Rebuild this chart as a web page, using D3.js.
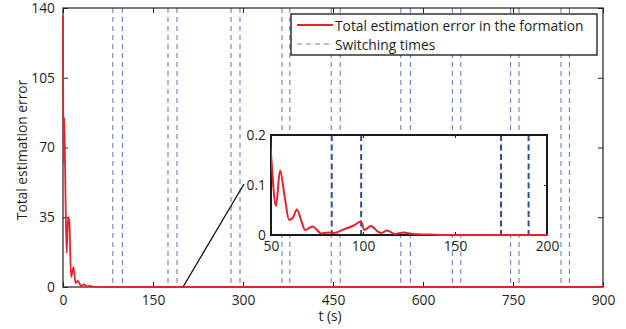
<!DOCTYPE html>
<html>
<head>
<meta charset="utf-8">
<script src="https://cdnjs.cloudflare.com/ajax/libs/d3/7.8.5/d3.min.js"></script>
<style>
  html, body { margin: 0; padding: 0; background: #fff; }
  svg { display: block; }
  text { font-family: "Open Sans", "DejaVu Sans", sans-serif; fill: #231f20; }
</style>
</head>
<body>
<svg id="chart" width="626" height="329"></svg>
<script>
// ---------- data ----------
const timeValues = [0, 0.8, 2, 3.5, 6, 8.5, 10.5, 13.5, 17.5, 21, 25, 30, 35, 40, 45,
  50, 52.7, 54.9, 57.5, 59.8, 62, 64, 66.5, 68.5, 72.5, 77.5, 81, 84, 90, 95, 98.9,
  100.7, 104.3, 108, 110, 113, 117.4, 121.9, 127, 135, 150, 900];
const errorValues = [136, 62, 85, 60, 17, 35, 33, 5, 10, 2, 3, 0.5, 1.3, 0.3, 0.5,
  0.163, 0.058, 0.129, 0.075, 0.03, 0.035, 0.051, 0.028, 0.01, 0.017, 0.003, 0.005, 0.004, 0.012, 0.019, 0.027,
  0.01, 0.018, 0.007, 0.004, 0.009, 0.002, 0.005, 0.002, 0.001, 0, 0];
const switchingTimes = [83, 99, 175, 190, 280, 295, 365, 378, 447, 462, 563, 579, 649, 663, 746, 760, 830, 844];
const xTicksMain = [0, 150, 300, 450, 600, 750, 900];
const yTicksMain = [0, 35, 70, 105, 140];
const xTicksInset = [50, 100, 150, 200];
const yTicksInset = [0, 0.1, 0.2];
const legendLabels = ["Total estimation error in the formation", "Switching times"];
const xLabel = "t (s)";
const yLabel = "Total estimation error";

const series = timeValues.map((t, i) => ({ t, v: errorValues[i] }));

// ---------- styles ----------
const RED = "#e8212b";
const DASH_MAIN = "#6a81c6";
const DASH_INSET = "#2d4ea5";
const FS = "13.8px";

const svg = d3.select("#chart");
const defs = svg.append("defs");

// ---------- main axes ----------
const x = d3.scaleLinear().domain([0, 900]).range([63, 603]);
const y = d3.scaleLinear().domain([0, 140]).range([287, 8]);

const gMain = svg.append("g");

// switching lines (main)
gMain.selectAll("line.sw").data(switchingTimes).join("line")
  .attr("x1", d => x(d)).attr("x2", d => x(d))
  .attr("y1", y(140)).attr("y2", y(0))
  .attr("stroke", DASH_MAIN).attr("stroke-width", 1.1)
  .attr("stroke-dasharray", "5,4");

// axes
const axB = d3.axisBottom(x).tickValues(xTicksMain).tickSize(-5).tickPadding(8).tickFormat(d3.format("d"));
const axT = d3.axisTop(x).tickValues(xTicksMain).tickSize(-5).tickFormat("");
const axL = d3.axisLeft(y).tickValues(yTicksMain).tickSize(-5).tickPadding(8).tickFormat(d3.format("d"));
const axR = d3.axisRight(y).tickValues(yTicksMain).tickSize(-5).tickFormat("");

function styleAxis(g) {
  g.select(".domain").remove();
  g.selectAll(".tick line").attr("stroke", "#231f20").attr("stroke-width", 1);
  g.selectAll(".tick text").style("font-size", FS).attr("fill", "#231f20");
}
gMain.append("g").attr("transform", `translate(0,${y(0)})`).call(axB).call(styleAxis);
gMain.append("g").attr("transform", `translate(0,${y(140)})`).call(axT).call(styleAxis);
gMain.append("g").attr("transform", `translate(${x(0)},0)`).call(axL).call(styleAxis);
gMain.append("g").attr("transform", `translate(${x(900)},0)`).call(axR).call(styleAxis);

// frame
gMain.append("rect")
  .attr("x", x(0)).attr("y", y(140))
  .attr("width", x(900) - x(0)).attr("height", y(0) - y(140))
  .attr("fill", "none").attr("stroke", "#231f20").attr("stroke-width", 1.2);

// red curve (main)
defs.append("clipPath").attr("id", "clipMain")
  .append("rect").attr("x", x(0) - 2).attr("y", y(140) - 2).attr("width", x(900) - x(0) + 2).attr("height", y(0) - y(140) + 4);

const lineMain = d3.line().x(d => x(d.t)).y(d => y(d.v)).curve(d3.curveMonotoneX);
gMain.append("path").datum(series)
  .attr("d", lineMain)
  .attr("fill", "none").attr("stroke", RED).attr("stroke-width", 1.8)
  .attr("clip-path", "url(#clipMain)");

// labels
svg.append("text").attr("x", 330).attr("y", 321).attr("text-anchor", "middle")
  .style("font-size", FS).text(xLabel);
svg.append("text").attr("transform", "translate(27,150) rotate(-90)").attr("text-anchor", "middle")
  .style("font-size", FS).text(yLabel);

// ---------- legend ----------
const lg = svg.append("g");
lg.append("rect").attr("x", 291).attr("y", 14).attr("width", 306).attr("height", 41)
  .attr("fill", "#fff").attr("stroke", "#000").attr("stroke-width", 1.2);
lg.append("line").attr("x1", 297).attr("x2", 333).attr("y1", 25).attr("y2", 25)
  .attr("stroke", RED).attr("stroke-width", 1.8);
lg.append("line").attr("x1", 297).attr("x2", 333).attr("y1", 44).attr("y2", 44)
  .attr("stroke", DASH_MAIN).attr("stroke-width", 1.2).attr("stroke-dasharray", "5,4");
lg.selectAll("text.lg").data(legendLabels).join("text")
  .attr("x", 335).attr("y", (d, i) => 30.5 + i * 19)
  .style("font-size", FS).text(d => d);

// ---------- inset ----------
const xi = d3.scaleLinear().domain([50, 200]).range([271, 547]);
const yi = d3.scaleLinear().domain([0, 0.2]).range([235, 135]);
const gIn = svg.append("g");

gIn.append("rect").attr("x", xi(50)).attr("y", yi(0.2))
  .attr("width", xi(200) - xi(50)).attr("height", yi(0) - yi(0.2))
  .attr("fill", "#fff");

gIn.selectAll("line.sw").data(switchingTimes.filter(d => d >= 50 && d <= 200)).join("line")
  .attr("x1", d => xi(d)).attr("x2", d => xi(d))
  .attr("y1", yi(0.2)).attr("y2", yi(0))
  .attr("stroke", DASH_INSET).attr("stroke-width", 2)
  .attr("stroke-dasharray", "6,3.5");

const aiB = d3.axisBottom(xi).tickValues(xTicksInset).tickSize(-3).tickPadding(6).tickFormat(d3.format("d"));
const aiT = d3.axisTop(xi).tickValues(xTicksInset).tickSize(-3).tickFormat("");
const aiL = d3.axisLeft(yi).tickValues(yTicksInset).tickSize(-3).tickPadding(5).tickFormat(d => d === 0 ? "0" : d3.format(".1f")(d));
const aiR = d3.axisRight(yi).tickValues(yTicksInset).tickSize(-3).tickFormat("");
gIn.append("g").attr("transform", `translate(0,${yi(0)})`).call(aiB).call(styleAxis);
gIn.append("g").attr("transform", `translate(0,${yi(0.2)})`).call(aiT).call(styleAxis);
gIn.append("g").attr("transform", `translate(${xi(50)},0)`).call(aiL).call(styleAxis);
gIn.append("g").attr("transform", `translate(${xi(200)},0)`).call(aiR).call(styleAxis);

gIn.append("rect").attr("x", xi(50)).attr("y", yi(0.2))
  .attr("width", xi(200) - xi(50)).attr("height", yi(0) - yi(0.2))
  .attr("fill", "none").attr("stroke", "#1a1a1a").attr("stroke-width", 2);

defs.append("clipPath").attr("id", "clipIn")
  .append("rect").attr("x", xi(50)).attr("y", yi(0.2)).attr("width", xi(200) - xi(50) + 1).attr("height", yi(0) - yi(0.2) + 2);

const lineIn = d3.line().x(d => xi(d.t)).y(d => yi(Math.min(d.v, 1))).curve(d3.curveMonotoneX);
gIn.append("path").datum(series.filter(d => d.t >= 45 && d.t <= 900))
  .attr("d", lineIn)
  .attr("fill", "none").attr("stroke", RED).attr("stroke-width", 2)
  .attr("clip-path", "url(#clipIn)");

// connector line from main (t=200, 0) to the inset
svg.append("line")
  .attr("x1", x(200)).attr("y1", y(0))
  .attr("x2", xi(50) - 27).attr("y2", yi(0.1) - 1)
  .attr("stroke", "#111").attr("stroke-width", 1.3);
</script>
</body>
</html>
